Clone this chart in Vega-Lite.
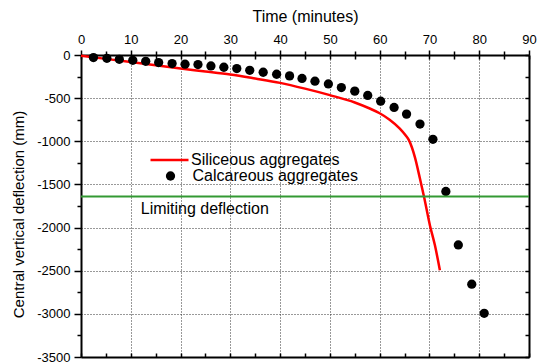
{
  "$schema": "https://vega.github.io/schema/vega-lite/v6.json",
  "width": 448,
  "height": 302,
  "autosize": "none",
  "padding": {"left": 81, "top": 55, "right": 10, "bottom": 6},
  "background": "white",
  "config": {
    "font": "Liberation Sans",
    "view": {"stroke": null},
    "axis": {
      "labelFont": "Liberation Sans",
      "titleFont": "Liberation Sans",
      "labelColor": "#000",
      "titleColor": "#000",
      "domainColor": "#000",
      "tickColor": "#000",
      "domainWidth": 2,
      "tickWidth": 1.5,
      "titleFontWeight": "normal",
      "labelFontSize": 13,
      "labelFlush": false,
      "labelOverlap": false
    },
    "legend": {
      "labelFont": "Liberation Sans",
      "labelColor": "#000",
      "labelFontSize": 16,
      "labelLimit": 400,
      "padding": 0,
      "offset": 0
    }
  },
  "datasets": {
    "siliceous": [
      {"time": 0, "deflection": -10},
      {"time": 5, "deflection": -45},
      {"time": 10, "deflection": -82},
      {"time": 15, "deflection": -120},
      {"time": 20, "deflection": -157},
      {"time": 25, "deflection": -190},
      {"time": 30, "deflection": -225},
      {"time": 35, "deflection": -272},
      {"time": 40, "deflection": -323},
      {"time": 45, "deflection": -390},
      {"time": 50, "deflection": -465},
      {"time": 55, "deflection": -550},
      {"time": 58, "deflection": -620},
      {"time": 60, "deflection": -675},
      {"time": 62, "deflection": -750},
      {"time": 64, "deflection": -850},
      {"time": 65.2, "deflection": -930},
      {"time": 65.9, "deflection": -990},
      {"time": 66.5, "deflection": -1075},
      {"time": 67.1, "deflection": -1190},
      {"time": 68.1, "deflection": -1435},
      {"time": 68.9, "deflection": -1640},
      {"time": 70.1, "deflection": -1975},
      {"time": 71.1, "deflection": -2206},
      {"time": 72.1, "deflection": -2494}
    ],
    "calcareous": [
      {"time": 2.5, "deflection": -30},
      {"time": 5.2, "deflection": -38},
      {"time": 7.7, "deflection": -50},
      {"time": 10.4, "deflection": -61},
      {"time": 13.0, "deflection": -73},
      {"time": 15.6, "deflection": -88},
      {"time": 18.3, "deflection": -99},
      {"time": 20.9, "deflection": -107},
      {"time": 23.5, "deflection": -111},
      {"time": 26.1, "deflection": -127},
      {"time": 28.7, "deflection": -142},
      {"time": 31.3, "deflection": -157},
      {"time": 33.9, "deflection": -177},
      {"time": 36.6, "deflection": -200},
      {"time": 39.3, "deflection": -223},
      {"time": 41.9, "deflection": -242},
      {"time": 44.4, "deflection": -272},
      {"time": 47.0, "deflection": -304},
      {"time": 49.7, "deflection": -335},
      {"time": 52.3, "deflection": -377},
      {"time": 55.0, "deflection": -419},
      {"time": 57.6, "deflection": -469},
      {"time": 60.2, "deflection": -535},
      {"time": 62.9, "deflection": -608},
      {"time": 65.4, "deflection": -685},
      {"time": 68.1, "deflection": -800},
      {"time": 70.7, "deflection": -977},
      {"time": 73.3, "deflection": -1582},
      {"time": 75.8, "deflection": -2201},
      {"time": 78.5, "deflection": -2656},
      {"time": 81.0, "deflection": -2994}
    ],
    "limit": [
      {"label": "Limiting deflection", "deflection": -1640}
    ]
  },
  "layer": [
    {
      "data": {"name": "siliceous"},
      "mark": {"type": "line", "strokeWidth": 2.5, "interpolate": "monotone"},
      "encoding": {
        "x": {
          "field": "time",
          "type": "quantitative",
          "scale": {"domain": [0, 90], "nice": false, "zero": false},
          "axis": {
            "orient": "top",
            "title": "Time (minutes)",
            "titleFontSize": 16,
            "titlePadding": 9,
            "values": [0, 5, 10, 15, 20, 25, 30, 35, 40, 45, 50, 55, 60, 65, 70, 75, 80, 85, 90],
            "labelExpr": "datum.value % 10 === 0 ? datum.label : ''",
            "tickSize": {"condition": {"test": "datum.value % 10 === 0", "value": 5}, "value": 4},
            "labelPadding": 4,
            "grid": true,
            "gridColor": "#333",
            "gridDash": [1, 2],
            "gridWidth": 1,
            "gridOpacity": {"condition": {"test": "datum.value % 10 === 0 && datum.value > 0 && datum.value < 90", "value": 1}, "value": 0}
          }
        },
        "y": {
          "field": "deflection",
          "type": "quantitative",
          "scale": {"domain": [-3500, 0], "nice": false, "zero": false},
          "axis": {
            "orient": "left",
            "title": "Central vertical deflection (mm)",
            "titleFontSize": 15,
            "titlePadding": 10,
            "titleY": 159,
            "values": [0, -250, -500, -750, -1000, -1250, -1500, -1750, -2000, -2250, -2500, -2750, -3000, -3250, -3500],
            "labelExpr": "datum.value % 500 === 0 ? '' + datum.value : ''",
            "tickSize": {"condition": {"test": "datum.value % 500 === 0", "value": 7}, "value": 4},
            "labelPadding": 4,
            "grid": true,
            "gridColor": "#333",
            "gridDash": [1, 2],
            "gridWidth": 1,
            "gridOpacity": {"condition": {"test": "datum.value % 500 === 0 && datum.value < 0 && datum.value > -3500", "value": 1}, "value": 0}
          }
        },
        "color": {
          "datum": "Siliceous aggregates",
          "type": "nominal",
          "scale": {"domain": ["Siliceous aggregates"], "range": ["#ff0000"]},
          "legend": {
            "orient": "none",
            "legendX": 68,
            "legendY": 84.5,
            "title": null,
            "symbolType": "stroke",
            "symbolSize": 1444,
            "symbolStrokeWidth": 2.5,
            "labelOffset": 1
          }
        }
      }
    },
    {
      "data": {"name": "calcareous"},
      "mark": {"type": "point", "filled": true, "color": "#000", "opacity": 1, "size": 86},
      "encoding": {
        "x": {
          "field": "time",
          "type": "quantitative",
          "scale": {"domain": [0, 90], "nice": false, "zero": false},
          "axis": {
            "orient": "bottom",
            "title": null,
            "labels": false,
            "grid": false,
            "values": [0, 5, 10, 15, 20, 25, 30, 35, 40, 45, 50, 55, 60, 65, 70, 75, 80, 85, 90],
            "tickSize": -4
          }
        },
        "y": {
          "field": "deflection",
          "type": "quantitative",
          "scale": {"domain": [-3500, 0], "nice": false, "zero": false},
          "axis": {
            "orient": "right",
            "title": null,
            "labels": false,
            "grid": false,
            "values": [0, -250, -500, -750, -1000, -1250, -1500, -1750, -2000, -2250, -2500, -2750, -3000, -3250, -3500],
            "tickSize": -4
          }
        },
        "shape": {
          "datum": "Calcareous aggregates",
          "type": "nominal",
          "scale": {"domain": ["Calcareous aggregates"], "range": ["circle"]},
          "legend": {
            "orient": "none",
            "legendX": 81.5,
            "legendY": 113,
            "title": null,
            "symbolSize": 86,
            "symbolFillColor": "#000",
            "symbolStrokeColor": "#000",
            "symbolStrokeWidth": 0,
            "labelOffset": 14
          }
        }
      }
    },
    {
      "data": {"name": "limit"},
      "mark": {"type": "rule", "color": "#339933", "strokeWidth": 2},
      "encoding": {
        "y": {"field": "deflection", "type": "quantitative", "axis": null}
      }
    },
    {
      "data": {"name": "limit"},
      "mark": {"type": "text", "align": "left", "baseline": "middle", "dy": 12, "fontSize": 16, "font": "Liberation Sans", "color": "#000"},
      "encoding": {
        "x": {
          "datum": 12,
          "type": "quantitative",
          "axis": {
            "orient": "top",
            "title": null,
            "labels": false,
            "grid": false,
            "domain": false,
            "values": [0, 5, 10, 15, 20, 25, 30, 35, 40, 45, 50, 55, 60, 65, 70, 75, 80, 85, 90],
            "tickSize": -4
          }
        },
        "y": {"field": "deflection", "type": "quantitative", "axis": null},
        "text": {"field": "label"}
      }
    }
  ],
  "resolve": {"axis": {"x": "independent", "y": "independent"}}
}
